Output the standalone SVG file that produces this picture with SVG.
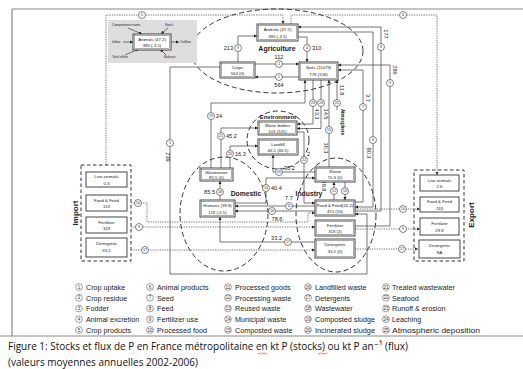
<svg xmlns="http://www.w3.org/2000/svg" width="523" height="369" viewBox="0 0 523 369">
<defs>
<marker id="a" viewBox="0 0 6 6" refX="6" refY="3" markerWidth="3.2" markerHeight="3.2" orient="auto" markerUnits="userSpaceOnUse"><path d="M0,0 L6,3 L0,6 z" fill="#222"/></marker>
<style>
.fr{fill:none;stroke:#8a8a8a;stroke-width:1.2}
.ln{fill:none;stroke:#3c3c3c;stroke-width:0.7}
.dt{fill:none;stroke:#555;stroke-width:0.8;stroke-dasharray:1.3 1.1}
.el{fill:none;stroke:#333;stroke-width:1;stroke-dasharray:5 3}
.db{fill:none;stroke:#333;stroke-width:1;stroke-dasharray:3.5 2.5}
.box{fill:#fff;stroke:#333;stroke-width:0.9}
.in{fill:none;stroke:#333;stroke-width:0.4}
.t{font-family:"Liberation Sans",Arial,sans-serif;font-size:4.3px;fill:#222;text-anchor:middle}
.s{font-family:"Liberation Sans",Arial,sans-serif;font-size:3.2px;fill:#222}
.v{font-family:"Liberation Sans",Arial,sans-serif;font-size:5.6px;fill:#222}
.vm{text-anchor:middle}
.ve{text-anchor:end}
.rg{font-family:"Liberation Sans",Arial,sans-serif;font-weight:bold;fill:#222;text-anchor:middle}
.fc{fill:#fff;stroke:#333;stroke-width:0.6}
.fn{font-family:"Liberation Sans",Arial,sans-serif;font-size:3.6px;fill:#222;text-anchor:middle}
.lg{font-family:"Liberation Sans",Arial,sans-serif;font-size:7.2px;fill:#222}
.lc{fill:#fff;stroke:#444;stroke-width:0.5}
.ln5{font-family:"Liberation Sans",Arial,sans-serif;font-size:4.6px;fill:#333;text-anchor:middle}
.cap{font-family:"Open Sans","DejaVu Sans","Liberation Sans",sans-serif;fill:#111}
</style>
</defs>
<rect width="523" height="369" fill="#fff"/>
<g id="frame">
<path class="fr" d="M12,9 H523 M12,9 V336 M0,336 H523"/>
</g>

<g id="regions">
<ellipse class="el" cx="277" cy="51" rx="86" ry="42"/>
<ellipse class="el" cx="278" cy="140" rx="31" ry="29"/>
<ellipse class="el" cx="224" cy="214" rx="44" ry="57"/>
<ellipse class="el" cx="336" cy="215" rx="40" ry="57"/>
<text class="rg" x="277" y="51" font-size="7">Agriculture</text>
<text class="rg" x="278" y="119" font-size="6">Environment</text>
<text class="rg" x="246" y="196" font-size="6.8">Domestic</text>
<text class="rg" x="309" y="196" font-size="6.8">Industry</text>
<text class="rg" font-size="4.5" transform="translate(341,122) rotate(90)">Atmosphere</text>
</g>

<g id="connectors">
<path class="ln" d="M299,77 H255" marker-end="url(#a)"/>
<path class="ln" d="M255,64 H299" marker-end="url(#a)"/>
<path class="ln" d="M238,62 V36 H257" marker-end="url(#a)"/>
<path class="ln" d="M298,37 H307 V62" marker-end="url(#a)"/>
<path class="ln" d="M220,67 H170 V274 H367 V214 H355" marker-end="url(#a)"/>
<path class="ln" d="M298,32 H373 V207 H355" marker-end="url(#a)"/>
<path class="ln" d="M355,202 H363 V70 H338" marker-end="url(#a)"/>
<path class="ln" d="M355,211 H381 V27 H298" marker-end="url(#a)"/>
<path class="ln" d="M355,226 H390 V65 H338" marker-end="url(#a)"/>
<path class="ln" d="M315,211 H235" marker-end="url(#a)"/>
<path class="ln" d="M315,206 H235" marker-end="url(#a)"/>
<path class="ln" d="M235,203 H266 V178 H315" marker-end="url(#a)"/>
<path class="ln" d="M315,172 H273 V155" marker-end="url(#a)"/>
<path class="ln" d="M334,200 V182" marker-end="url(#a)"/>
<path class="ln" d="M345,182 V200" marker-end="url(#a)"/>
<path class="ln" d="M329,167 V80" marker-end="url(#a)"/>
<path class="ln" d="M220,200 V181" marker-end="url(#a)"/>
<path class="ln" d="M211,168 V103 H305 V80" marker-end="url(#a)"/>
<path class="ln" d="M230,168 V146 H258" marker-end="url(#a)"/>
<path class="ln" d="M221,168 V128 H258" marker-end="url(#a)"/>
<path class="ln" d="M297,132 H304 V203 H315" marker-end="url(#a)"/>
<path class="ln" d="M313,80 V124 H297" marker-end="url(#a)"/>
<path class="ln" d="M321,80 V128.5 H297" marker-end="url(#a)"/>
<path class="ln" d="M337,110 V80" marker-end="url(#a)"/>
<path class="ln" d="M315,242 H220 V217" marker-end="url(#a)"/>
<path class="dt" d="M106,165 V15 H283 V24" marker-end="url(#a)"/>
<path class="dt" d="M291,24 V15 H437 V175" marker-end="url(#a)"/>
<path class="dt" d="M131,203 H147 V222 H308 V213 H315" marker-end="url(#a)"/>
<path class="dt" d="M131,227 H315" marker-end="url(#a)"/>
<path class="dt" d="M131,250 H315" marker-end="url(#a)"/>
<path class="dt" d="M355,209 H420" marker-end="url(#a)"/>
<path class="dt" d="M355,229 H420" marker-end="url(#a)"/>
<path class="dt" d="M355,249 H418" marker-end="url(#a)"/>
<g id="flow-numbers">
<circle class="fc" cx="279" cy="77" r="3.5"/><text class="fn" x="279" y="78.3">1</text>
<circle class="fc" cx="279" cy="64" r="3.5"/><text class="fn" x="279" y="65.3">2</text>
<circle class="fc" cx="238" cy="48" r="3.5"/><text class="fn" x="238" y="49.3">3</text>
<circle class="fc" cx="307" cy="48" r="3.5"/><text class="fn" x="307" y="49.3">4</text>
<circle class="fc" cx="170" cy="143" r="3.5"/><text class="fn" x="170" y="144.3">5</text>
<circle class="fc" cx="373" cy="140" r="3.5"/><text class="fn" x="373" y="141.3">6</text>
<circle class="fc" cx="363" cy="107" r="3.5"/><text class="fn" x="363" y="108.3">7</text>
<circle class="fc" cx="381" cy="47" r="3.5"/><text class="fn" x="381" y="48.3">8</text>
<circle class="fc" cx="390" cy="83" r="3.5"/><text class="fn" x="390" y="84.3">9</text>
<circle class="fc" cx="272" cy="211" r="3.5"/><text class="fn" x="272" y="212.3">10</text>
<circle class="fc" cx="289" cy="206" r="3.5"/><text class="fn" x="289" y="207.3">11</text>
<circle class="fc" cx="334" cy="191" r="3.5"/><text class="fn" x="334" y="192.3">12</text>
<circle class="fc" cx="345" cy="191" r="3.5"/><text class="fn" x="345" y="192.3">13</text>
<circle class="fc" cx="266" cy="188" r="3.5"/><text class="fn" x="266" y="189.3">14</text>
<circle class="fc" cx="329" cy="130" r="3.5"/><text class="fn" x="329" y="131.3">15</text>
<circle class="fc" cx="279" cy="172" r="3.5"/><text class="fn" x="279" y="173.3">16</text>
<circle class="fc" cx="288" cy="242" r="3.5"/><text class="fn" x="288" y="243.3">17</text>
<circle class="fc" cx="220" cy="192" r="3.5"/><text class="fn" x="220" y="193.3">18</text>
<circle class="fc" cx="211" cy="116" r="3.5"/><text class="fn" x="211" y="117.3">19</text>
<circle class="fc" cx="230" cy="154" r="3.5"/><text class="fn" x="230" y="155.3">20</text>
<circle class="fc" cx="221" cy="136" r="3.5"/><text class="fn" x="221" y="137.3">21</text>
<circle class="fc" cx="304" cy="160" r="3.5"/><text class="fn" x="304" y="161.3">22</text>
<circle class="fc" cx="313" cy="103" r="3.5"/><text class="fn" x="313" y="104.3">23</text>
<circle class="fc" cx="321" cy="103" r="3.5"/><text class="fn" x="321" y="104.3">24</text>
<circle class="fc" cx="337" cy="103" r="3.5"/><text class="fn" x="337" y="104.3">25</text>
<circle class="fc" cx="142" cy="15" r="3.5"/><text class="fn" x="142" y="16.3">5</text>
<circle class="fc" cx="403" cy="15" r="3.5"/><text class="fn" x="403" y="16.3">6</text>
<circle class="fc" cx="138" cy="203" r="3.5"/><text class="fn" x="138" y="204.3">10</text>
<circle class="fc" cx="139" cy="227" r="3.5"/><text class="fn" x="139" y="228.3">9</text>
<circle class="fc" cx="145" cy="250" r="3.5"/><text class="fn" x="145" y="251.3">17</text>
<circle class="fc" cx="403" cy="209" r="3.5"/><text class="fn" x="403" y="210.3">10</text>
<circle class="fc" cx="403" cy="229" r="3.5"/><text class="fn" x="403" y="230.3">9</text>
<circle class="fc" cx="402" cy="249" r="3.5"/><text class="fn" x="402" y="250.3">17</text>
</g>
<g id="flow-values">
<text class="v vm" x="279" y="87">564</text>
<text class="v vm" x="279" y="58.5">112</text>
<text class="v ve" x="233" y="50">213</text>
<text class="v" x="312" y="50">310</text>
<text class="v vm" transform="translate(165.5,157) rotate(90)">239</text>
<text class="v vm" transform="translate(367,153) rotate(90)">80.3</text>
<text class="v vm" transform="translate(366,98) rotate(90)">3.7</text>
<text class="v vm" transform="translate(384,34) rotate(90)">177</text>
<text class="v vm" transform="translate(393,70) rotate(90)">286</text>
<text class="v vm" x="277" y="221">78.6</text>
<text class="v vm" x="289" y="200">7.7</text>
<text class="v" x="271" y="189.5">40.4</text>
<text class="v" x="284" y="170">30.2</text>
<text class="v vm" transform="translate(323.5,148) rotate(90)">30.3</text>
<text class="v ve" x="215" y="194">85.5</text>
<text class="v" x="216" y="118">24</text>
<text class="v" x="235" y="156">16.3</text>
<text class="v" x="226" y="138">45.2</text>
<text class="v" x="307" y="156">2</text>
<text class="v vm" transform="translate(315,114) rotate(90)">43.3</text>
<text class="v vm" transform="translate(323.5,114) rotate(90)">14.5</text>
<text class="v vm" transform="translate(339.5,90) rotate(90)">11.8</text>
<text class="v vm" transform="translate(322,186) rotate(90)">19.8</text>
<text class="v ve" x="282" y="240">33.2</text>
</g>
</g>

<g id="legend-key">
<rect x="108" y="20" width="89" height="43" fill="#dedede"/>
<text class="s" x="112" y="26">Compartment name</text>
<text class="s" x="165" y="26">Stock</text>
<text class="s" x="112" y="43">Inflow</text>
<text class="s" x="180" y="43">Outflow</text>
<text class="s" x="112" y="58">Total inflow</text>
<text class="s" x="164" y="58">Balance</text>
<path class="ln" d="M128,28 L142,34" marker-end="url(#a)"/>
<path class="ln" d="M168,28 L161,34" marker-end="url(#a)"/>
<path class="ln" d="M123,42 H133" marker-end="url(#a)"/>
<path class="ln" d="M171,42 H179" marker-end="url(#a)"/>
<path class="ln" d="M125,55 L139,49" marker-end="url(#a)"/>
<path class="ln" d="M166,55 L160,49" marker-end="url(#a)"/>
<rect class="box" x="133" y="34" width="38" height="16"/>
<rect class="in" x="134.3" y="35.3" width="35.4" height="13.4"/>
<text class="t" x="152" y="40.5">Animals (47.2)</text>
<text class="t" x="152" y="46.5">390 (-3.1)</text>
</g>

<g id="animals"><rect class="box" x="257" y="24" width="41" height="17"/><rect class="in" x="258.3" y="25.3" width="38.4" height="14.4"/><text class="t" x="277.5" y="31">Animals (47.2)</text><text class="t" x="277.5" y="37.5">390 (-3.1)</text></g>
<g id="crops"><rect class="box" x="220" y="62" width="35" height="16"/><rect class="in" x="221.3" y="63.3" width="32.4" height="13.4"/><text class="t" x="237.5" y="68.5">Crops</text><text class="t" x="237.5" y="75">564 (0)</text></g>
<g id="soils"><rect class="box" x="299" y="62" width="39" height="18"/><rect class="in" x="300.3" y="63.3" width="36.4" height="15.4"/><text class="t" x="318.5" y="69">Soils (11079)</text><text class="t" x="318.5" y="76">778 (158)</text></g>
<g id="water-bodies"><rect class="box" x="258" y="121" width="39" height="14"/><rect class="in" x="259.3" y="122.3" width="36.4" height="11.4"/><text class="t" x="277.5" y="127">Water bodies</text><text class="t" x="277.5" y="133">103 (101)</text></g>
<g id="landfill"><rect class="box" x="258" y="139" width="40" height="16"/><rect class="in" x="259.3" y="140.3" width="37.4" height="13.4"/><text class="t" x="278" y="145.5">Landfill</text><text class="t" x="278" y="152">46.5 (46.5)</text></g>
<g id="wastewater"><rect class="box" x="200" y="168" width="33" height="13"/><rect class="in" x="201.3" y="169.3" width="30.4" height="10.4"/><text class="t" x="216.5" y="173.7">Wastewater</text><text class="t" x="216.5" y="179.3">85.5 (0)</text></g>
<g id="humans"><rect class="box" x="200" y="200" width="35" height="17"/><rect class="in" x="201.3" y="201.3" width="32.4" height="14.4"/><text class="t" x="217.5" y="207">Humans (39.8)</text><text class="t" x="217.5" y="213.5">119 (-6.5)</text></g>
<g id="waste"><rect class="box" x="315" y="167" width="40" height="15"/><rect class="in" x="316.3" y="168.3" width="37.4" height="12.4"/><text class="t" x="335" y="173">Waste</text><text class="t" x="335" y="179.3">70.3 (0)</text></g>
<g id="food-feed"><rect class="box" x="315" y="200" width="40" height="16"/><rect class="in" x="316.3" y="201.3" width="37.4" height="13.4"/><text class="t" x="335" y="206.5" textLength="36" lengthAdjust="spacingAndGlyphs">Food &amp; Feed(24.2)</text><text class="t" x="335" y="213">471 (16)</text></g>
<g id="fertilizer"><rect class="box" x="315" y="220" width="40" height="16"/><rect class="in" x="316.3" y="221.3" width="37.4" height="13.4"/><text class="t" x="335" y="226.5">Fertilizer</text><text class="t" x="335" y="233">318 (2)</text></g>
<g id="detergents"><rect class="box" x="315" y="239" width="40" height="19"/><rect class="in" x="316.3" y="240.3" width="37.4" height="16.4"/><text class="t" x="335" y="246">Detergents</text><text class="t" x="335" y="253">33.2 (0)</text></g>

<g id="import">
<rect class="db" x="81" y="165" width="50" height="96"/>
<text class="rg" font-size="8" transform="translate(78,213) rotate(-90)">Import</text>
<rect class="box" x="86" y="172" width="41" height="15"/><text class="t" x="106.5" y="178">Live animals</text><text class="t" x="106.5" y="184.5">0.3</text>
<rect class="box" x="86" y="195" width="41" height="16"/><text class="t" x="106.5" y="201.5">Food &amp; Feed</text><text class="t" x="106.5" y="208">113</text>
<rect class="box" x="86" y="217" width="41" height="16"/><text class="t" x="106.5" y="223.5">Fertilizer</text><text class="t" x="106.5" y="230">318</text>
<rect class="box" x="86" y="238" width="41" height="19"/><text class="t" x="106.5" y="245">Detergents</text><text class="t" x="106.5" y="252">33.2</text>
</g>
<g id="export">
<rect class="db" x="414" y="170" width="50" height="91"/>
<text class="rg" font-size="8" transform="translate(474,215) rotate(-90)">Export</text>
<rect class="box" x="420" y="175" width="39" height="16"/><text class="t" x="439.5" y="181.5">Live animals</text><text class="t" x="439.5" y="188">2.6</text>
<rect class="box" x="420" y="197" width="39" height="15"/><text class="t" x="439.5" y="203">Food &amp; Feed</text><text class="t" x="439.5" y="209.5">133</text>
<rect class="box" x="420" y="218" width="39" height="17"/><text class="t" x="439.5" y="224.5">Fertilizer</text><text class="t" x="439.5" y="231.5">29.8</text>
<rect class="box" x="419" y="240" width="41" height="18"/><text class="t" x="439.5" y="246.5">Detergents</text><text class="t" x="439.5" y="253.5">NA</text>
</g>

<g id="legend">
<g>
<circle class="lc" cx="79" cy="287" r="3.4"/><text class="ln5" x="79" y="288.6">1</text><text class="lg" x="86" y="289.7">Crop uptake</text>
<circle class="lc" cx="79" cy="297.8" r="3.4"/><text class="ln5" x="79" y="299.4">2</text><text class="lg" x="86" y="300.5">Crop residue</text>
<circle class="lc" cx="79" cy="308.5" r="3.4"/><text class="ln5" x="79" y="310.1">3</text><text class="lg" x="86" y="311.2">Fodder</text>
<circle class="lc" cx="79" cy="319.2" r="3.4"/><text class="ln5" x="79" y="320.8">4</text><text class="lg" x="86" y="321.9">Animal excretion</text>
<circle class="lc" cx="79" cy="330" r="3.4"/><text class="ln5" x="79" y="331.6">5</text><text class="lg" x="86" y="332.7">Crop products</text>
</g>
<g>
<circle class="lc" cx="150" cy="287" r="3.4"/><text class="ln5" x="150" y="288.6">6</text><text class="lg" x="157" y="289.7">Animal products</text>
<circle class="lc" cx="150" cy="297.8" r="3.4"/><text class="ln5" x="150" y="299.4">7</text><text class="lg" x="157" y="300.5">Seed</text>
<circle class="lc" cx="150" cy="308.5" r="3.4"/><text class="ln5" x="150" y="310.1">8</text><text class="lg" x="157" y="311.2">Feed</text>
<circle class="lc" cx="150" cy="319.2" r="3.4"/><text class="ln5" x="150" y="320.8">9</text><text class="lg" x="157" y="321.9">Fertilizer use</text>
<circle class="lc" cx="150" cy="330" r="3.4"/><text class="ln5" x="150" y="331.6">10</text><text class="lg" x="157" y="332.7">Processed food</text>
</g>
<g>
<circle class="lc" cx="228" cy="287" r="3.4"/><text class="ln5" x="228" y="288.6">11</text><text class="lg" x="235" y="289.7">Processed goods</text>
<circle class="lc" cx="228" cy="297.8" r="3.4"/><text class="ln5" x="228" y="299.4">12</text><text class="lg" x="235" y="300.5">Processing waste</text>
<circle class="lc" cx="228" cy="308.5" r="3.4"/><text class="ln5" x="228" y="310.1">13</text><text class="lg" x="235" y="311.2">Reused waste</text>
<circle class="lc" cx="228" cy="319.2" r="3.4"/><text class="ln5" x="228" y="320.8">14</text><text class="lg" x="235" y="321.9">Municipal waste</text>
<circle class="lc" cx="228" cy="330" r="3.4"/><text class="ln5" x="228" y="331.6">15</text><text class="lg" x="235" y="332.7">Composted waste</text>
</g>
<g>
<circle class="lc" cx="308" cy="287" r="3.4"/><text class="ln5" x="308" y="288.6">16</text><text class="lg" x="315" y="289.7">Landfilled waste</text>
<circle class="lc" cx="308" cy="297.8" r="3.4"/><text class="ln5" x="308" y="299.4">17</text><text class="lg" x="315" y="300.5">Detergents</text>
<circle class="lc" cx="308" cy="308.5" r="3.4"/><text class="ln5" x="308" y="310.1">18</text><text class="lg" x="315" y="311.2">Wastewater</text>
<circle class="lc" cx="308" cy="319.2" r="3.4"/><text class="ln5" x="308" y="320.8">19</text><text class="lg" x="315" y="321.9" textLength="60" lengthAdjust="spacingAndGlyphs">Composted sludge</text>
<circle class="lc" cx="308" cy="330" r="3.4"/><text class="ln5" x="308" y="331.6">20</text><text class="lg" x="315" y="332.7" textLength="60" lengthAdjust="spacingAndGlyphs">Incinerated sludge</text>
</g>
<g>
<circle class="lc" cx="386" cy="287" r="3.4"/><text class="ln5" x="386" y="288.6">21</text><text class="lg" x="392" y="289.7">Treated wastewater</text>
<circle class="lc" cx="386" cy="297.8" r="3.4"/><text class="ln5" x="386" y="299.4">22</text><text class="lg" x="392" y="300.5">Seafood</text>
<circle class="lc" cx="386" cy="308.5" r="3.4"/><text class="ln5" x="386" y="310.1">23</text><text class="lg" x="392" y="311.2">Runoff &amp; erosion</text>
<circle class="lc" cx="386" cy="319.2" r="3.4"/><text class="ln5" x="386" y="320.8">24</text><text class="lg" x="392" y="321.9">Leaching</text>
<circle class="lc" cx="386" cy="330" r="3.4"/><text class="ln5" x="386" y="331.6">25</text><text class="lg" x="392" y="332.7" textLength="88" lengthAdjust="spacingAndGlyphs">Atmospheric deposition</text>
</g>
</g>

<g id="caption">
<text class="cap" x="8" y="350" style="font-size:11px" textLength="400" lengthAdjust="spacingAndGlyphs">Figure 1: Stocks et flux de P en France métropolitaine en kt P (stocks) ou kt P an⁻¹ (flux)</text>
<text class="cap" x="8" y="366" style="font-size:11px" textLength="190" lengthAdjust="spacingAndGlyphs">(valeurs moyennes annuelles 2002-2006)</text>
<path d="M258,353 l1.2,1 l1.2,-1 l1.2,1 l1.2,-1 l1.2,1 l1.2,-1 l1.2,1 l1.2,-1 M318,353 l1.2,1 l1.2,-1 l1.2,1 l1.2,-1 l1.2,1 l1.2,-1 l1.2,1 l1.2,-1" fill="none" stroke="#d22" stroke-width="0.6"/>
</g>
</svg>
